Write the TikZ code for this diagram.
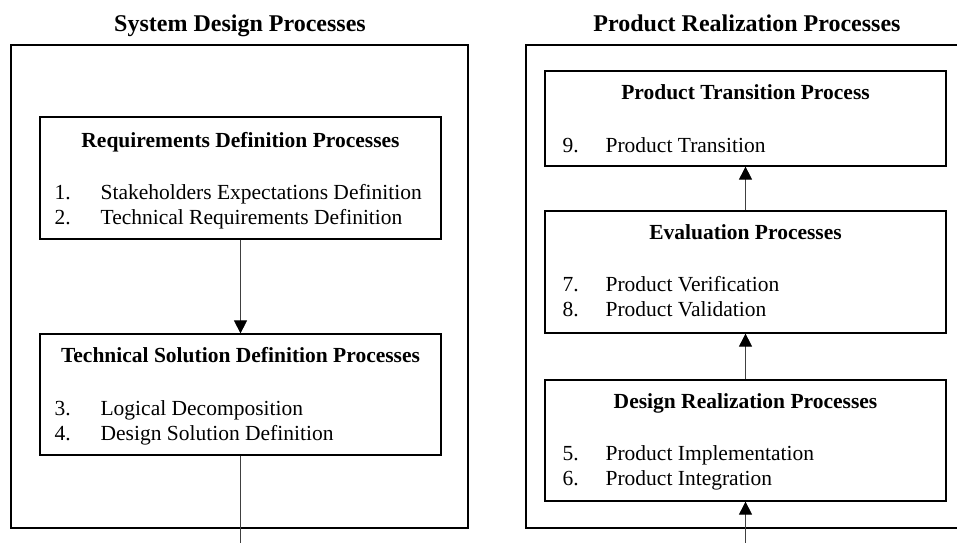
\documentclass[tikz,border=0pt]{standalone}
\usepackage{fontspec}
\setmainfont{Liberation Serif}
\usetikzlibrary{positioning,arrows.meta}

\tikzset{
  groupline/.style={line width=1.6pt},
  procbox/.style={draw, line width=1.2pt, inner sep=0pt},
  heading/.style={font=\bfseries\fontsize{24}{28}\selectfont, anchor=base, inner sep=0pt},
  boxtitle/.style={font=\bfseries\fontsize{21.5}{25}\selectfont, anchor=base, inner sep=0pt},
  item/.style={font=\fontsize{21.5}{25}\selectfont, anchor=base west, inner sep=0pt},
  flow/.style={line width=0.8pt, draw=black!75, -{Triangle[length=13pt,width=13pt,color=black]}}
}

\begin{document}
\begin{tikzpicture}[x=1pt,y=-1pt]
        \useasboundingbox (0,0) rectangle (957,542);

        % Group frames
        \draw[groupline] (11,45) rectangle (468,528);
        \draw[groupline] (960,45) -- (526,45) -- (526,528) -- (960,528);
        \node[heading] (sdp) at (240,31) {System Design Processes};
        \node[heading] (prp) at (747,31) {Product Realization Processes};

        % System design boxes
        \node[procbox, minimum width=401pt, minimum height=122pt] (req) at (240.5,178) {};
        \node[boxtitle] (reqtitle) at ([yshift=-31pt]req.north) {Requirements Definition Processes};
        \node[item] (reqn1) at ([xshift=15pt,yshift=-83pt]req.north west) {1.};
        \node[item] (reqt1) at ([xshift=61pt,yshift=-83pt]req.north west) {Stakeholders Expectations Definition};
        \node[item] (reqn2) at ([xshift=15pt,yshift=-108pt]req.north west) {2.};
        \node[item] (reqt2) at ([xshift=61pt,yshift=-108pt]req.north west) {Technical Requirements Definition};

        \node[procbox, minimum width=401pt, minimum height=121pt] (tech) at (240.5,394.5) {};
        \node[boxtitle] (techtitle) at ([yshift=-29pt]tech.north) {Technical Solution Definition Processes};
        \node[item] (techn1) at ([xshift=15pt,yshift=-82pt]tech.north west) {3.};
        \node[item] (techt1) at ([xshift=61pt,yshift=-82pt]tech.north west) {Logical Decomposition};
        \node[item] (techn2) at ([xshift=15pt,yshift=-107pt]tech.north west) {4.};
        \node[item] (techt2) at ([xshift=61pt,yshift=-107pt]tech.north west) {Design Solution Definition};

        % Product realization boxes
        \node[procbox, minimum width=401pt, minimum height=95pt] (trans) at (745.5,118.5) {};
        \node[boxtitle] (transtitle) at ([yshift=-29pt]trans.north) {Product Transition Process};
        \node[item] (transn1) at ([xshift=18pt,yshift=-82pt]trans.north west) {9.};
        \node[item] (transt1) at ([xshift=61pt,yshift=-82pt]trans.north west) {Product Transition};

        \node[procbox, minimum width=401pt, minimum height=122pt] (eval) at (745.5,272) {};
        \node[boxtitle] (evaltitle) at ([yshift=-29pt]eval.north) {Evaluation Processes};
        \node[item] (evaln1) at ([xshift=18pt,yshift=-81pt]eval.north west) {7.};
        \node[item] (evalt1) at ([xshift=61pt,yshift=-81pt]eval.north west) {Product Verification};
        \node[item] (evaln2) at ([xshift=18pt,yshift=-106pt]eval.north west) {8.};
        \node[item] (evalt2) at ([xshift=61pt,yshift=-106pt]eval.north west) {Product Validation};

        \node[procbox, minimum width=401pt, minimum height=121pt] (real) at (745.5,440.5) {};
        \node[boxtitle] (realtitle) at ([yshift=-29pt]real.north) {Design Realization Processes};
        \node[item] (realn1) at ([xshift=18pt,yshift=-81pt]real.north west) {5.};
        \node[item] (realt1) at ([xshift=61pt,yshift=-81pt]real.north west) {Product Implementation};
        \node[item] (realn2) at ([xshift=18pt,yshift=-106pt]real.north west) {6.};
        \node[item] (realt2) at ([xshift=61pt,yshift=-106pt]real.north west) {Product Integration};

        % Connectors
        \coordinate (leftout) at (240.5,545);
        \coordinate (rightin) at (745.5,545);
        \draw[flow] (req.south) -- (tech.north);
        \draw[line width=0.8pt, draw=black!75] (tech.south) -- (leftout);
        \draw[flow] (rightin) -- (real.south);
        \draw[flow] (real.north) -- (eval.south);
        \draw[flow] (eval.north) -- (trans.south);
\end{tikzpicture}
\end{document}
